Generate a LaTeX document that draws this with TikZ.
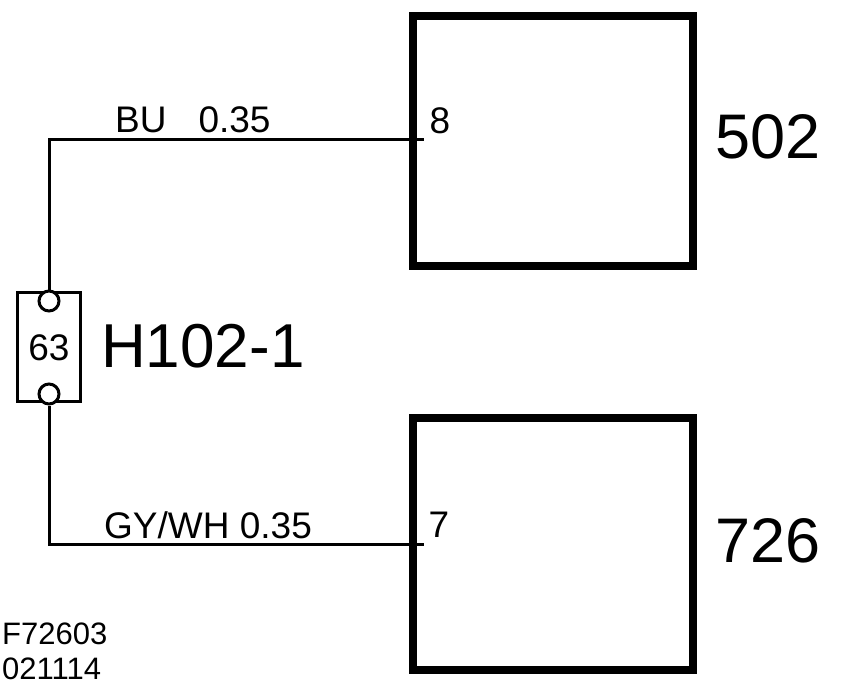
\documentclass[tikz,border=0pt]{standalone}
\usepackage{fontspec}
\setmainfont{Liberation Sans}
\tikzset{
    unitbox/.style={draw, line width=8pt, minimum width=280pt, inner sep=0pt},
    connbox/.style={draw, line width=3pt, minimum width=63pt, minimum height=109pt, inner sep=0pt},
    pinmark/.style={draw, circle, line width=3pt, minimum size=20pt, inner sep=0pt, fill=white},
    wire/.style={line width=3pt},
    smalltext/.style={font=\fontsize{37}{39}\selectfont},
    bigtext/.style={font=\fontsize{63}{65}\selectfont},
    figtext/.style={font=\fontsize{31}{33}\selectfont, anchor=west, inner sep=0pt},
}
\begin{document}
\begin{tikzpicture}[x=1pt,y=-1pt]
    \useasboundingbox (0,0) rectangle (864,694);
    \node[unitbox, minimum height=250pt] (unita) at (553,141) {};
    \node[unitbox, minimum height=252pt] (unitb) at (553,544) {};
    \node[connbox] (conn) at (49,347) {};
    \node[smalltext] (connval) at (49,348) {63};
    \node[pinmark] (pintop) at (49,301) {};
    \node[pinmark] (pinbot) at (49,394) {};
    \coordinate (enda) at (424,139);
    \coordinate (endb) at (424,544);
    \coordinate (turna) at (49,139);
    \coordinate (turnb) at (49,544);
    \draw[wire] (pintop) -- (turna) -- (enda);
    \draw[wire] (pinbot) -- (turnb) -- (endb);
    \node[smalltext] (pina) at (440,121) {8};
    \node[smalltext] (pinb) at (439,525) {7};
    \node[smalltext, anchor=west, inner sep=0pt] (wirea) at (115,120) {BU\hspace{32pt}0.35};
    \node[smalltext, anchor=west, inner sep=0pt] (wireb) at (104,525) {GY/WH 0.35};
    \node[bigtext] (namea) at (768,137) {502};
    \node[bigtext] (nameb) at (768,541) {726};
    \node[font=\fontsize{62}{64}\selectfont, anchor=west, inner sep=0pt] (connname) at (101,346) {H102-1};
    \node[figtext] (figa) at (2,634) {F72603};
    \node[figtext] (figb) at (2,669) {021114};
\end{tikzpicture}
\end{document}
